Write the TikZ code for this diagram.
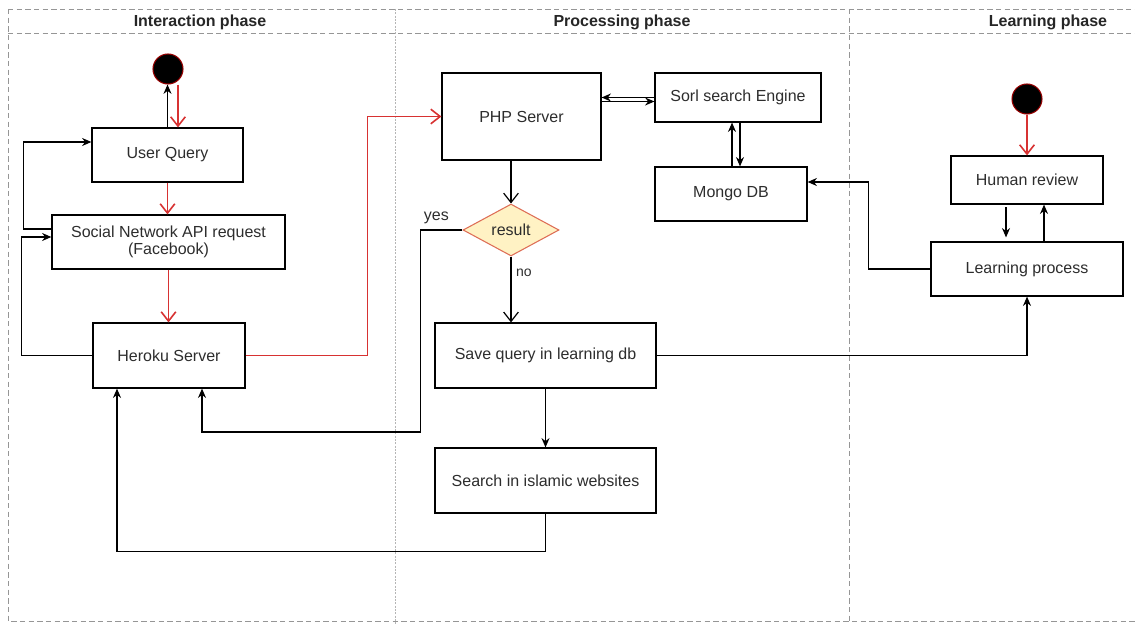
\documentclass[tikz,border=0pt]{standalone}
\usepackage{fontspec}
\setmainfont{Liberation Sans}
\usepackage{tikz}
\usetikzlibrary{shapes.geometric, arrows.meta, positioning, calc}
\definecolor{flowred}{RGB}{215,50,50}
\definecolor{startred}{RGB}{150,0,0}
\definecolor{decfill}{RGB}{255,242,196}
\definecolor{decline}{RGB}{222,110,86}
\definecolor{lanegray}{RGB}{150,150,150}
\definecolor{textgray}{RGB}{45,45,45}

\begin{document}
\begin{tikzpicture}[x=0.75pt, y=-0.75pt,
  box/.style={rectangle, draw=black, fill=white, line width=0.9pt, text=textgray,
              font=\fontsize{12}{12.5}\selectfont, align=center, minimum width=#1},
  startdot/.style={circle, fill=black, draw=startred, line width=0.8pt,
                   minimum size=22.5pt, inner sep=0pt},
  decision/.style={diamond, draw=decline, fill=decfill, line width=0.8pt, aspect=1.85,
                   inner sep=0pt, minimum width=72pt, minimum height=39pt,
                   font=\fontsize{12}{12.5}\selectfont, text=textgray},
  lane/.style={draw=lanegray, dash pattern=on 4pt off 2.5pt, line width=0.6pt},
  lanedot/.style={draw=lanegray!70, dash pattern=on 1.5pt off 1pt, line width=0.6pt},
  title/.style={font=\fontsize{12}{12.5}\selectfont\bfseries, text=black!85},
  lbl/.style={font=\fontsize{12}{12.5}\selectfont, text=textgray},
  arr/.style={-{Stealth[length=7pt, width=6pt]}, line width=0.9pt},
  openarr/.style={-{Straight Barb[length=7pt, width=11pt]}, line width=0.9pt},
  redarr/.style={openarr, draw=flowred, line width=1.2pt},
]
  \useasboundingbox (0,0) rectangle (1135,624);

  % swimlanes
  \draw[lane] (8,9) -- (1135,9);
  \draw[lane] (8,33) -- (1135,33);
  \draw[lane] (8,9) -- (8,621) -- (1135,621);
  \draw[lanedot] (395,9) -- (395,624);
  \draw[lane] (849,9) -- (849,624);
  \node[title] (tint) at (200,22)  {Interaction phase};
  \node[title] (tpro) at (622,22)  {Processing phase};
  \node[title] (tlea) at (1048,22) {Learning phase};

  % interaction phase
  \node[startdot] (st1) at (168,69) {};
  \node[box=113.25pt, minimum height=40.5pt] (uq) at (167.5,155)   {User Query};
  \node[box=174.75pt, minimum height=40.5pt] (sn) at (168.5,242)   {Social Network API request\\(Facebook)};
  \node[box=114pt,    minimum height=48.75pt] (hk) at (169,355.5)  {Heroku Server};

  % processing phase
  \node[box=119.25pt, minimum height=65.25pt] (php)   at (521.5,116.5) {PHP Server};
  \node[box=124.5pt,  minimum height=36.75pt] (sorl)  at (738,97.5)    {Sorl search Engine};
  \node[box=114pt,    minimum height=40.5pt]  (mongo) at (731,194)     {Mongo DB};
  \node[decision] (res) at (511,230) {result};
  \node[box=165.75pt, minimum height=48.75pt] (save)   at (545.5,355.5) {Save query in learning db};
  \node[box=165.75pt, minimum height=48.75pt] (search) at (545.5,480.5) {Search in islamic websites};

  % learning phase
  \node[startdot] (st2) at (1027,99) {};
  \node[box=114pt, minimum height=36pt]   (hr) at (1027,180) {Human review};
  \node[box=144pt, minimum height=40.5pt] (lp) at (1027,269) {Learning process};

  % flow
  \draw[arr] (uq.north) -- (uq.north |- st1.south);
  \draw[redarr] ([xshift=7.5pt]st1.south) -- ([xshift=7.5pt]st1.south |- uq.north);
  \draw[redarr] (uq.south) -- (uq.south |- sn.north);
  \draw[redarr] (sn.south) -- (sn.south |- hk.north);
  \draw[arr] ([yshift=9.75pt]sn.west) -- ++(-28,0) |- ([yshift=9.75pt]uq.west);
  \draw[arr] (hk.west) -- ++(-71,0) |- ([yshift=3.75pt]sn.west);
  \draw[redarr] (hk.east) -- ++(122,0) |- (php.west);

  \draw[arr] (sorl.west) -- (sorl.west -| php.east);
  \draw[arr] ([yshift=-3pt]sorl.west -| php.east) -- ([yshift=-3pt]sorl.west);
  \draw[arr] ([xshift=0.75pt]mongo.north) -- ([xshift=0.75pt]mongo.north |- sorl.south);
  \draw[arr] ([xshift=6.75pt]mongo.north |- sorl.south) -- ([xshift=6.75pt]mongo.north);
  \draw[openarr] (res.north |- php.south) -- (res.north);
  \draw[openarr] (res.south) -- node[lbl, right, near start, font=\fontsize{10.5}{11}\selectfont]{no} (res.south |- save.north);
  \draw[arr] (res.west) -- node[lbl, above=1pt, pos=0.62]{yes} ++(-42,0) -- ++(0,202)
             -| ([xshift=24.75pt]hk.south);
  \draw[arr] (save) -- (search);
  \draw[arr] (search.south) -- ++(0,38) -| ([xshift=-39pt]hk.south);
  \draw[arr] (save.east) -| (lp.south);
  \draw[arr] (lp.west) -- ++(-62,0) |- ([yshift=9pt]mongo.east);

  \draw[redarr] (st2) -- (hr);
  \draw[arr, shorten <=2pt, shorten >=3pt] ([xshift=-15.75pt]hr.south) -- ([xshift=-15.75pt]hr.south |- lp.north);
  \draw[arr] ([xshift=12.75pt]hr.south |- lp.north) -- ([xshift=12.75pt]hr.south);
\end{tikzpicture}
\end{document}
